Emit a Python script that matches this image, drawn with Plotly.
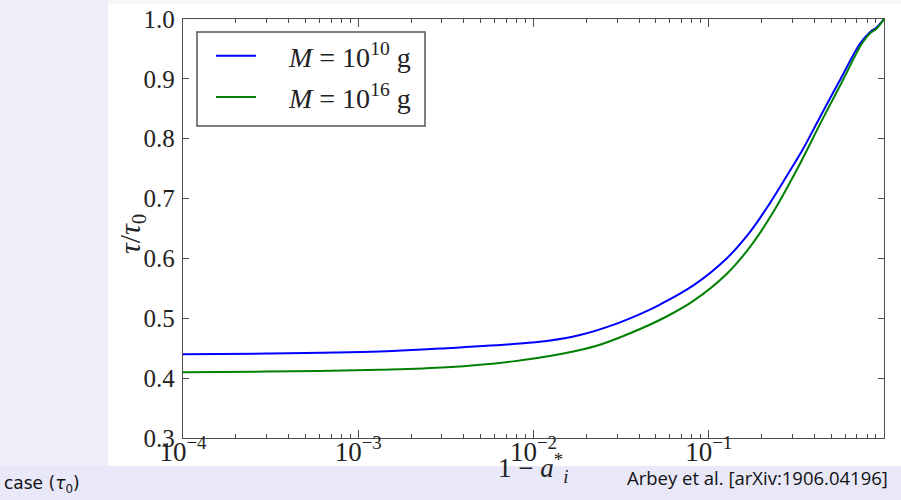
import plotly.graph_objects as go

# ---- data ----
x_M10 = [1e-4, 3e-4, 1.33e-3, 3.2e-3, 7.67e-3, 0.0119, 0.0184, 0.0285, 0.0405, 0.0527,
         0.0817, 0.1265, 0.1717, 0.223, 0.290, 0.347, 0.422, 0.561, 0.730, 0.832, 0.908, 1.0]
tau_M10 = [0.440, 0.441, 0.4446, 0.450, 0.457, 0.462, 0.472, 0.489, 0.507, 0.523,
           0.555, 0.600, 0.644, 0.692, 0.746, 0.784, 0.831, 0.898, 0.959, 0.978, 0.986, 1.0]

x_M16 = [1e-4, 3e-4, 1.33e-3, 3.2e-3, 7.67e-3, 0.0148, 0.0229, 0.0356, 0.0575, 0.0817,
         0.1265, 0.1717, 0.233, 0.318, 0.443, 0.583, 0.748, 0.832, 0.908, 1.0]
tau_M16 = [0.410, 0.411, 0.414, 0.418, 0.428, 0.441, 0.454, 0.475, 0.503, 0.529,
           0.574, 0.619, 0.677, 0.748, 0.831, 0.898, 0.959, 0.976, 0.984, 1.0]

series_names = ["<i>M</i> = 10<sup>10</sup> g", "<i>M</i> = 10<sup>16</sup> g"]
series_colors = ["#0000ff", "#008000"]

x_tickvals = [1e-4, 1e-3, 1e-2, 1e-1, 1]
x_ticktext = ["10<sup>−4</sup>", "10<sup>−3</sup>", "10<sup>−2</sup>", "10<sup>−1</sup>", "10<sup>0</sup>"]
y_tickvals = [0.3, 0.4, 0.5, 0.6, 0.7, 0.8, 0.9, 1.0]
y_ticktext = ["0.3", "0.4", "0.5", "0.6", "0.7", "0.8", "0.9", "1.0"]

W, H = 901, 500
px_l, px_r, px_t, px_b = 183, 884, 19, 438

fig = go.Figure()
nbsp = "&nbsp;" * 4
for i, (xs, ys) in enumerate([(x_M10, tau_M10), (x_M16, tau_M16)]):
    fig.add_trace(go.Scatter(
        x=xs, y=ys, mode="lines", name=nbsp + series_names[i],
        line=dict(color=series_colors[i], width=2, shape="spline", smoothing=1.0),
        legendgroup=f"g{i}",
    ))

serif = "Liberation Serif"
axcol = "#4d4d4d"

fig.update_layout(
    width=W, height=H,
    margin=dict(l=0, r=0, t=0, b=0, autoexpand=False),
    paper_bgcolor="#ffffff",
    plot_bgcolor="#ffffff",
    showlegend=True,
    legend=dict(
        x=211 / W, y=1 - 31 / H, xanchor="left", yanchor="top",
        borderwidth=0, bgcolor="rgba(0,0,0,0)",
        font=dict(family=serif, size=28, color="#222222"),
        tracegroupgap=2,
        itemwidth=40,
    ),
    xaxis=dict(
        type="log", domain=[px_l / W, px_r / W], range=[-4, 0],
        tickvals=x_tickvals, ticktext=x_ticktext,
        ticks="inside", ticklen=8, tickwidth=1, tickcolor=axcol,
        minor=dict(ticks="inside", ticklen=4, tickcolor=axcol, dtick="D1", showgrid=False),
        showline=True, linecolor=axcol, linewidth=1.3, mirror="ticks",
        showgrid=False, zeroline=False, automargin=False,
        tickfont=dict(family=serif, size=27, color="#222222"),
        ticklabelstandoff=-11,
    ),
    yaxis=dict(
        domain=[1 - px_b / H, 1 - px_t / H], range=[0.3, 1.0],
        tickvals=y_tickvals, ticktext=y_ticktext,
        ticks="inside", ticklen=6, tickwidth=1, tickcolor=axcol,
        showline=True, linecolor=axcol, linewidth=1.3, mirror="ticks",
        showgrid=False, zeroline=False, automargin=False,
        tickfont=dict(family=serif, size=25, color="#222222"),
        ticklabelstandoff=2,
    ),
    shapes=[
        dict(type="rect", xref="paper", yref="paper", x0=0, x1=108 / W, y0=0, y1=1,
             fillcolor="#eeeefa", line=dict(width=0), layer="below"),
        dict(type="rect", xref="paper", yref="paper", x0=0, x1=1, y0=0, y1=1 - 466 / H,
             fillcolor="#e8e8f9", line=dict(width=0), layer="below"),
        dict(type="rect", xref="paper", yref="paper", x0=108 / W, x1=1, y0=1 - 4 / H, y1=1,
             fillcolor="#f8f8fc", line=dict(width=0), layer="below"),
        # legend frame
        dict(type="rect", xref="paper", yref="paper", x0=197 / W, x1=425 / W,
             y0=1 - 126 / H, y1=1 - 32 / H,
             fillcolor="#ffffff", line=dict(width=1.5, color="#555555"), layer="above"),
    ],
    annotations=[
        dict(text="<i>τ</i>/<i>τ</i><sub>0</sub>", xref="paper", yref="paper",
             x=132 / W, y=1 - 234 / H, xanchor="center", yanchor="middle",
             textangle=-90, showarrow=False,
             font=dict(family=serif, size=30, color="#222222")),
        dict(text="1 − <i>a</i><sup>*</sup><sub><i>i</i></sub>", xref="paper", yref="paper",
             x=533 / W, y=1 - 447 / H, xanchor="center", yanchor="top", showarrow=False,
             font=dict(family=serif, size=27, color="#222222")),
        dict(text="Arbey et al. [arXiv:1906.04196]", xref="paper", yref="paper",
             x=890 / W, y=1 - 477 / H, xanchor="right", yanchor="middle", showarrow=False,
             font=dict(family="Open Sans", size=18.5, color="#111111")),
        dict(text="case (<i>τ</i><sub>0</sub>)", xref="paper", yref="paper",
             x=2 / W, y=1 - 484 / H, xanchor="left", yanchor="middle", showarrow=False,
             font=dict(family="DejaVu Sans", size=17, color="#111111")),
    ],
)

fig.write_html(
    "out.html",
    config={"displayModeBar": False},
    post_script="document.body.style.margin='0';document.body.style.overflow='hidden';",
)
